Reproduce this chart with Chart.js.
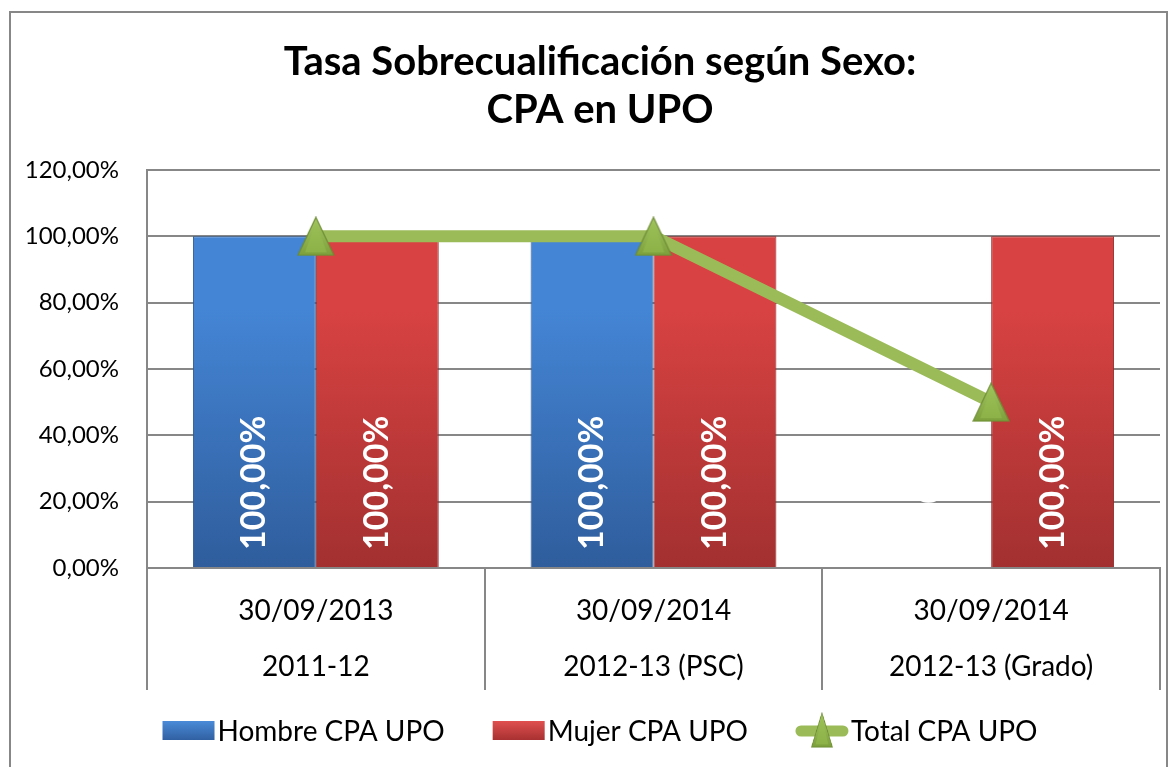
<!DOCTYPE html>
<html>
<head>
<meta charset="utf-8">
<script src="https://cdn.jsdelivr.net/npm/chart.js@4"></script>
<style>
  html, body { margin: 0; padding: 0; background: #fff; overflow: hidden; }
  #wrap { position: relative; width: 1175px; height: 767px; }
  #frame { position: absolute; left: 9px; top: 11px; width: 1155px; height: 800px; border: 2px solid #878787; pointer-events: none; }
  canvas { position: absolute; left: 0; top: 0; }
</style>
</head>
<body>
<div id="wrap">
  <canvas id="chart" width="1175" height="767"></canvas>
  <div id="frame"></div>
</div>
<script>
const dates = ['30/09/2013', '30/09/2014', '30/09/2014'];
const years = ['2011-12', '2012-13 (PSC)', '2012-13 (Grado)'];
const hombre = [100, 100, 0];
const mujer = [100, 100, 100];
const total = [100, 100, 50];
const seriesNames = ['Hombre CPA UPO', 'Mujer CPA UPO', 'Total CPA UPO'];

const FONT = 'Lato, "Open Sans", sans-serif';

function pct(v) {
  return v.toFixed(2).replace('.', ',') + '%';
}

// triangle marker, a bit taller than equilateral like the excel one
function makeTriangle(w, h) {
  const c = document.createElement('canvas');
  c.width = w; c.height = h;
  const g = c.getContext('2d');
  const grad = g.createLinearGradient(0, 0, 0, h);
  grad.addColorStop(0, '#a6c964');
  grad.addColorStop(1, '#7c9f3b');
  g.beginPath();
  g.moveTo(w / 2, 1);
  g.lineTo(w - 1, h - 1);
  g.lineTo(1, h - 1);
  g.closePath();
  g.fillStyle = grad;
  g.fill();
  g.strokeStyle = '#6d8c33';
  g.lineWidth = 1.2;
  g.stroke();
  // inner bevel
  g.beginPath();
  g.moveTo(w / 2, 6);
  g.lineTo(w - 8, h - 4);
  g.lineTo(8, h - 4);
  g.closePath();
  g.fillStyle = 'rgba(150,190,80,0.55)';
  g.fill();
  return c;
}
const tri = makeTriangle(38, 40);

function barGradient(top, bottom) {
  return (ctx) => {
    const area = ctx.chart.chartArea;
    if (!area) return top;
    const g = ctx.chart.ctx.createLinearGradient(0, area.top, 0, area.bottom);
    g.addColorStop(0, top);
    g.addColorStop(0.35, top);
    g.addColorStop(1, bottom);
    return g;
  };
}

// the excel title sits a little right of the canvas centre
const shiftTitle = {
  id: 'shiftTitle',
  afterLayout(chart) {
    const t = chart.titleBlock;
    if (t) { t.left += 20; t.right += 20; }
  }
};

const barLabels = {
  id: 'barLabels',
  afterDatasetsDraw(chart) {
    const ctx = chart.ctx;
    ctx.save();
    ctx.fillStyle = '#fff';
    ctx.font = 'bold 34px ' + FONT;
    ctx.textAlign = 'left';
    ctx.textBaseline = 'middle';
    [0, 1].forEach(di => {
      const meta = chart.getDatasetMeta(di);
      meta.data.forEach((bar, i) => {
        const v = chart.data.datasets[di].data[i];
        ctx.save();
        ctx.translate(bar.x, bar.base - 17);
        ctx.rotate(-Math.PI / 2);
        ctx.fillText(pct(v), 0, 0);
        ctx.restore();
      });
    });
    ctx.restore();
  }
};

const legendPlugin = {
  id: 'customLegend',
  afterDraw(chart) {
    const ctx = chart.ctx;
    const y = 731;
    ctx.save();
    ctx.font = '28px ' + FONT;
    ctx.textBaseline = 'middle';
    ctx.textAlign = 'left';
    const boxW = 52, gap = 3, space = 48;
    const widths = seriesNames.map(n => boxW + gap + ctx.measureText(n).width);
    const full = widths.reduce((a, b) => a + b, 0) + space * 2;
    let x = 600 - full / 2;
    const cols = [['#4a8bd8', '#2f5e9f'], ['#e05050', '#a52f2f']];
    seriesNames.forEach((n, i) => {
      if (i < 2) {
        const g = ctx.createLinearGradient(0, y - 10, 0, y + 10);
        g.addColorStop(0, cols[i][0]);
        g.addColorStop(1, cols[i][1]);
        ctx.fillStyle = g;
        ctx.fillRect(x, y - 10, boxW, 19);
      } else {
        ctx.strokeStyle = '#9bbb59';
        ctx.lineWidth = 11;
        ctx.lineCap = 'round';
        ctx.beginPath();
        ctx.moveTo(x + 5, y);
        ctx.lineTo(x + boxW - 5, y);
        ctx.stroke();
        ctx.drawImage(tri, x + boxW / 2 - 11, y - 19, 22, 36);
      }
      ctx.fillStyle = '#000';
      ctx.fillText(n, x + boxW + gap, y + 1);
      x += widths[i] + space;
    });
    ctx.restore();
  }
};

new Chart(document.getElementById('chart'), {
  data: {
    labels: dates.map((d, i) => [d, years[i]]),
    datasets: [
      {
        type: 'bar',
        label: seriesNames[0],
        data: hombre,
        backgroundColor: barGradient('#4485d5', '#2f5d9c'),
        borderColor: '#2d5790',
        borderWidth: 1,
        categoryPercentage: 0.728,
        barPercentage: 1,
        order: 2
      },
      {
        type: 'bar',
        label: seriesNames[1],
        data: mujer,
        backgroundColor: barGradient('#d84242', '#a33030'),
        borderColor: '#8e2a2a',
        borderWidth: 1,
        categoryPercentage: 0.728,
        barPercentage: 1,
        order: 2
      },
      {
        type: 'line',
        label: seriesNames[2],
        data: total,
        borderColor: '#9bbb59',
        borderWidth: 12,
        pointStyle: tri,
        pointRadius: 20,
        order: 1
      }
    ]
  },
  options: {
    responsive: false,
    animation: false,
    layout: { autoPadding: false, padding: { left: 0, right: 15, top: 0, bottom: 72 } },
    plugins: {
      legend: { display: false },
      tooltip: { enabled: false },
      title: {
        display: true,
        text: ['Tasa Sobrecualificación según Sexo:', 'CPA en UPO'],
        color: '#000',
        font: { family: FONT, size: 40, weight: 'bold', lineHeight: 48 / 40 },
        padding: { top: 38, bottom: 36 }
      }
    },
    scales: {
      x: {
        offset: true,
        grid: {
          offset: true,
          drawOnChartArea: false,
          tickLength: 122,
          lineWidth: 2,
          color: (c) => c.index === 3 ? 'rgba(0,0,0,0)' : '#878787'
        },
        border: { color: '#878787', width: 2 },
        ticks: {
          color: '#000',
          font: { family: FONT, size: 28, lineHeight: 56 / 28 },
          padding: -107,
          maxRotation: 0
        },
        afterFit: (s) => { s.height = 127; }
      },
      y: {
        min: 0,
        max: 120,
        ticks: {
          stepSize: 20,
          color: '#000',
          font: { family: FONT, size: 24 },
          padding: 28,
          callback: (v) => pct(v)
        },
        grid: { color: '#878787', lineWidth: 2, drawTicks: false },
        border: { color: '#878787', width: 2 },
        afterFit: (s) => { s.width = 147; }
      }
    }
  },
  plugins: [shiftTitle, barLabels, legendPlugin]
});
</script>
</body>
</html>
